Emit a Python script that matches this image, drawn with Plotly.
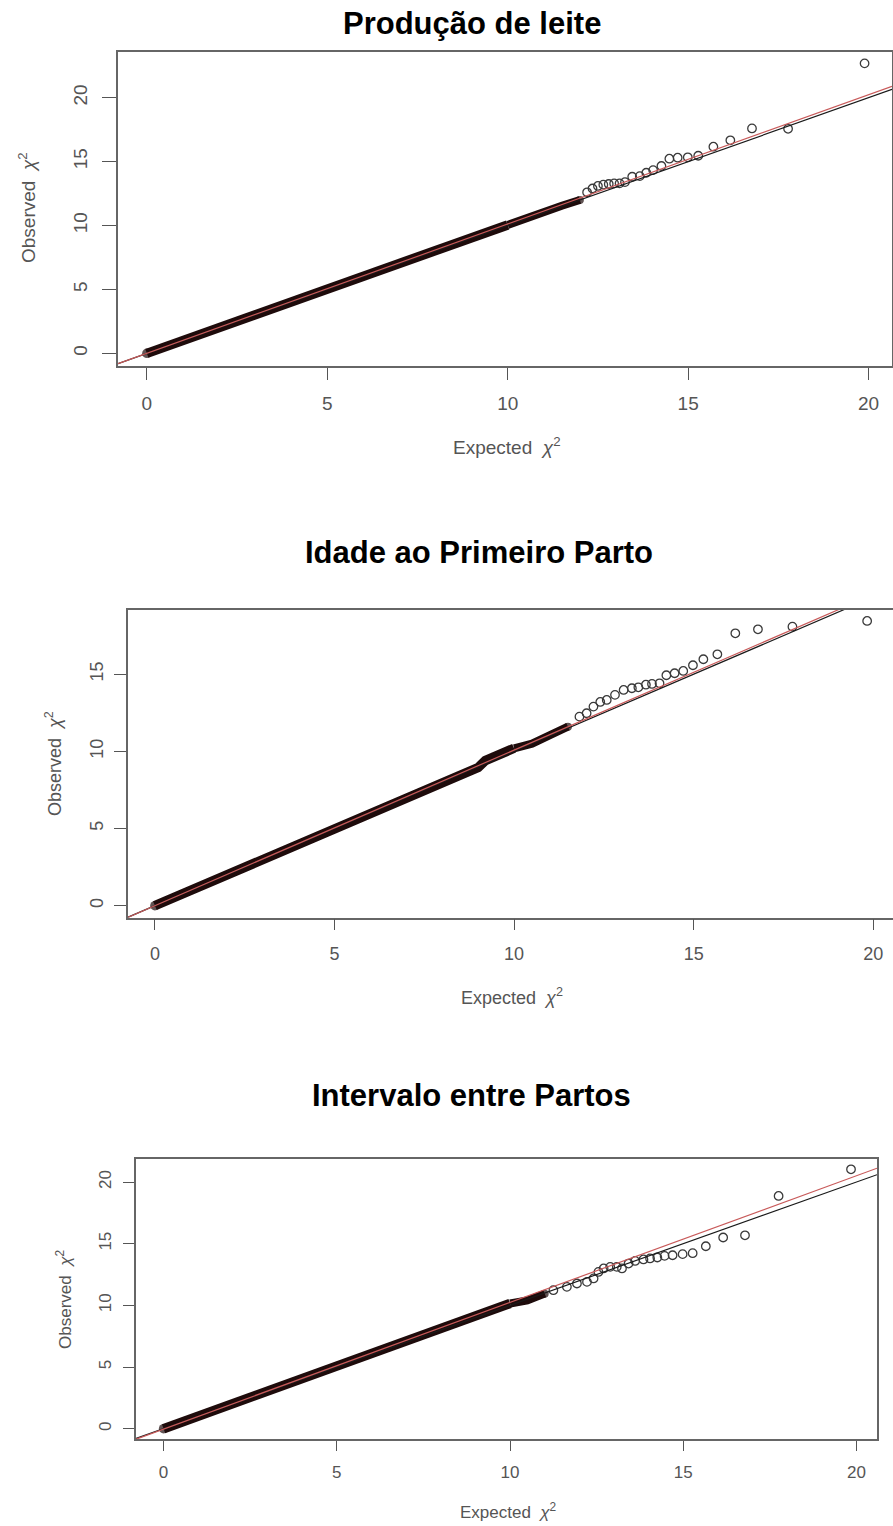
import plotly.graph_objects as go

W, H = 893, 1526

# ---------------- data ----------------
titles = ["Produção de leite", "Idade ao Primeiro Parto", "Intervalo entre Partos"]
tick_vals_x = [0, 5, 10, 15, 20]
tick_vals_y = [[0, 5, 10, 15, 20], [0, 5, 10, 15], [0, 5, 10, 15, 20]]

# dense part of each QQ cloud (expected, observed)
bulk1_x = [0.0, 1.0, 2.0, 3.0, 4.0, 5.0, 6.0, 7.0, 8.0, 9.0, 10.0, 10.5, 11.0, 11.5, 12.0]
bulk1_y = [0.0, 1.0, 2.0, 3.0, 4.0, 5.0, 6.0, 7.04, 8.0, 9.0, 10.05, 10.6, 11.05, 11.55, 12.0]
bulk2_x = [0.0, 1.0, 2.0, 3.0, 4.0, 5.0, 5.3, 5.6, 6.0, 7.0, 8.0, 8.6, 9.0, 9.2, 9.5, 10.0, 10.5, 11.0, 11.5]
bulk2_y = [0.0, 1.0, 2.0, 3.0, 4.0, 4.95, 5.15, 5.5, 6.0, 7.0, 8.0, 8.55, 8.95, 9.4, 9.75, 10.2, 10.5, 11.05, 11.6]
bulk3_x = [0.0, 1.0, 2.0, 3.0, 4.0, 5.0, 6.0, 7.0, 8.0, 9.0, 10.0, 10.5, 11.0]
bulk3_y = [0.0, 1.0, 2.0, 3.0, 4.0, 5.0, 6.05, 7.0, 8.0, 9.05, 10.15, 10.4, 10.95]

# sparse upper tail, individual points
tail1_x = [12.2, 12.35, 12.5, 12.65, 12.8, 12.95, 13.1, 13.25, 13.45, 13.66, 13.84, 14.03,
           14.26, 14.48, 14.71, 14.99, 15.28, 15.7, 16.17, 16.77, 17.77, 19.89]
tail1_y = [12.6, 12.9, 13.1, 13.2, 13.25, 13.3, 13.3, 13.4, 13.82, 13.87, 14.13, 14.34,
           14.66, 15.23, 15.31, 15.34, 15.46, 16.17, 16.67, 17.6, 17.57, 22.69]
tail2_x = [11.82, 12.02, 12.21, 12.4, 12.58, 12.81, 13.05, 13.28, 13.46, 13.67, 13.84, 14.05,
           14.24, 14.47, 14.71, 14.98, 15.27, 15.66, 16.16, 16.79, 17.75, 19.83]
tail2_y = [12.25, 12.47, 12.9, 13.2, 13.33, 13.66, 13.98, 14.09, 14.15, 14.32, 14.37, 14.41,
           14.93, 15.06, 15.21, 15.58, 15.97, 16.29, 17.65, 17.91, 18.08, 18.45]
tail3_x = [11.25, 11.64, 11.93, 12.22, 12.41, 12.55, 12.7, 12.89, 13.08, 13.23, 13.42, 13.61,
           13.85, 14.04, 14.25, 14.46, 14.69, 14.98, 15.27, 15.65, 16.15, 16.78, 17.75, 19.84]
tail3_y = [11.23, 11.5, 11.77, 11.9, 12.18, 12.71, 12.99, 13.12, 13.12, 12.99, 13.39, 13.6,
           13.72, 13.8, 13.88, 14.01, 14.06, 14.15, 14.23, 14.79, 15.5, 15.68, 18.87, 21.03]

# reference lines: (intercept, slope)
red_line = [(0.0, 1.012), (0.0, 1.008), (-0.03, 1.027)]
black_line = [(0.0, 1.0), (0.0, 1.0), (0.0, 1.0)]

bulks = [(bulk1_x, bulk1_y), (bulk2_x, bulk2_y), (bulk3_x, bulk3_y)]
tails = [(tail1_x, tail1_y), (tail2_x, tail2_y), (tail3_x, tail3_y)]

# ---------------- layout geometry (pixels) ----------------
panels = [
    dict(l=118, r=892, t=52, b=366, xr=[-0.80, 20.65], yr=[-0.99, 23.58],
         tfs=19, xtlen=12, ytlen=14, xstand=7, ystand=8,
         title_xy=(472, 23), xt_xy=(507, 446), yt_xy=(27, 208), afs=19),
    dict(l=127.6, r=893, t=610, b=917.7, xr=[-0.76, 20.55], yr=[-0.78, 19.16],
         tfs=18, xtlen=11, ytlen=12, xstand=8, ystand=4,
         title_xy=(479, 553), xt_xy=(512, 996), yt_xy=(53, 764), afs=18),
    dict(l=135.5, r=877, t=1159.3, b=1439.3, xr=[-0.81, 20.59], yr=[-0.86, 21.84],
         tfs=17, xtlen=10, ytlen=10.5, xstand=7, ystand=5,
         title_xy=(471, 1095), xt_xy=(508, 1511), yt_xy=(64, 1300), afs=17),
]

FONT = "Arial, Liberation Sans, sans-serif"
GRAY = "#555555"
BAND = "#1e0b0b"
THIN_FROM = 10.0   # expected value where the dense band starts to thin out

fig = go.Figure()
layout = dict(width=W, height=H, margin=dict(l=0, r=0, t=0, b=0),
              paper_bgcolor="white", plot_bgcolor="white", showlegend=False,
              template="none", annotations=[])

for i, p in enumerate(panels):
    n = "" if i == 0 else str(i + 1)
    xa, ya = "x" + n, "y" + n
    bx, by = bulks[i]
    tx, ty = tails[i]
    k = max(j for j, v in enumerate(bx) if v <= THIN_FROM)
    # dense band: thick core, thinner continuation
    fig.add_trace(go.Scatter(x=bx[k:], y=by[k:], mode="lines", xaxis=xa, yaxis=ya,
                             line=dict(color=BAND, width=8), hoverinfo="skip"))
    fig.add_trace(go.Scatter(x=bx[:k + 1], y=by[:k + 1], mode="lines", xaxis=xa, yaxis=ya,
                             line=dict(color=BAND, width=9.5), hoverinfo="skip"))
    fig.add_trace(go.Scatter(x=[bx[0], bx[-1]], y=[by[0], by[-1]], mode="markers",
                             xaxis=xa, yaxis=ya,
                             marker=dict(symbol="circle", size=[9.5, 8], color=BAND,
                                         line=dict(width=0)),
                             hoverinfo="skip"))
    # tail points
    fig.add_trace(go.Scatter(x=tx, y=ty, mode="markers", xaxis=xa, yaxis=ya,
                             marker=dict(symbol="circle-open", size=8.5,
                                         line=dict(color="#3a3a3a", width=1.3),
                                         color="#3a3a3a")))
    # reference lines across the whole axis range
    x0, x1 = p["xr"]
    for (a, b), col in ((black_line[i], "#1a1a1a"), (red_line[i], "#c85a5a")):
        fig.add_trace(go.Scatter(x=[x0, x1], y=[a + b * x0, a + b * x1], mode="lines",
                                 xaxis=xa, yaxis=ya, line=dict(color=col, width=1.2),
                                 hoverinfo="skip"))

    common = dict(showline=True, linecolor="#666666", linewidth=1.5, mirror=True,
                  showgrid=False, zeroline=False, ticks="outside", tickcolor=GRAY,
                  tickwidth=1.3, automargin=False,
                  tickfont=dict(family=FONT, size=p["tfs"], color=GRAY))
    layout["xaxis" + n] = dict(common, domain=[p["l"] / W, p["r"] / W], range=p["xr"],
                               tickvals=tick_vals_x, ticklen=p["xtlen"],
                               ticklabelstandoff=p["xstand"], anchor=ya)
    layout["yaxis" + n] = dict(common, domain=[1 - p["b"] / H, 1 - p["t"] / H], range=p["yr"],
                               tickvals=tick_vals_y[i], ticklen=p["ytlen"], tickangle=-90,
                               ticklabelstandoff=p["ystand"], anchor=xa)
    tx0, ty0 = p["title_xy"]
    layout["annotations"].append(dict(text="<b>" + titles[i] + "</b>", xref="paper", yref="paper",
                                      x=tx0 / W, y=1 - ty0 / H, xanchor="center", yanchor="middle",
                                      showarrow=False, font=dict(family=FONT, size=31, color="black")))
    ax0, ay0 = p["xt_xy"]
    layout["annotations"].append(dict(text="Expected\u00a0\u00a0<i>χ</i><sup>2</sup>", xref="paper",
                                      yref="paper", x=ax0 / W, y=1 - ay0 / H, xanchor="center",
                                      yanchor="middle", showarrow=False,
                                      font=dict(family=FONT, size=p["afs"], color=GRAY)))
    yx0, yy0 = p["yt_xy"]
    layout["annotations"].append(dict(text="Observed\u00a0\u00a0<i>χ</i><sup>2</sup>", xref="paper",
                                      yref="paper", x=yx0 / W, y=1 - yy0 / H, xanchor="center",
                                      yanchor="middle", textangle=-90, showarrow=False,
                                      font=dict(family=FONT, size=p["afs"], color=GRAY)))

fig.update_layout(**layout)
fig.write_html("out.html", config={"displayModeBar": False},
               post_script="document.body.style.margin='0';document.body.style.overflow='hidden';")
